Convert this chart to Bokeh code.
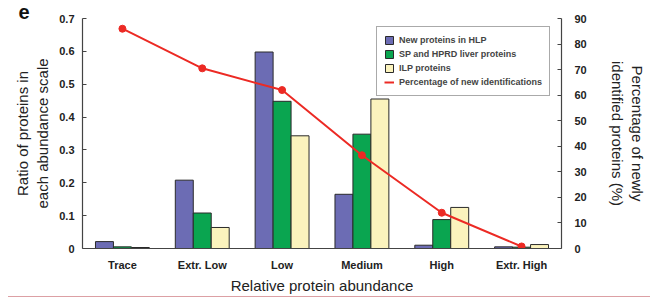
from bokeh.plotting import figure
from bokeh.models import (FactorRange, Range1d, LinearAxis, Legend, LegendItem,
                          ColumnDataSource, Title, FixedTicker, Div)
from bokeh.layouts import column
from bokeh.transform import dodge
from bokeh.embed import file_html
from bokeh.resources import INLINE

categories = ["Trace", "Extr. Low", "Low", "Medium", "High", "Extr. High"]
new_hlp = [0.021, 0.208, 0.598, 0.165, 0.010, 0.005]
sp_hprd = [0.005, 0.108, 0.448, 0.348, 0.088, 0.004]
ilp = [0.003, 0.064, 0.343, 0.455, 0.125, 0.012]
pct_new = [86.0, 70.5, 62.0, 36.5, 14.0, 0.8]
left_ticks = [0, 0.1, 0.2, 0.3, 0.4, 0.5, 0.6, 0.7]
right_ticks = [0, 10, 20, 30, 40, 50, 60, 70, 80, 90]

FONT = "Liberation Sans"
BLUE = "#6c6cb4"
GREEN = "#0aa550"
YELLOW = "#fbf3bd"
RED = "#ec2a24"

src = ColumnDataSource(dict(cat=categories, a=new_hlp, b=sp_hprd, c=ilp, pct=pct_new))

p = figure(frame_width=479, frame_height=230, x_range=FactorRange(*categories, range_padding=0),
           y_range=Range1d(0, 0.7), output_backend="svg", toolbar_location=None,
           min_border_left=82, min_border_right=86, min_border_top=18, min_border_bottom=47)
p.extra_y_ranges = {"pct": Range1d(0, 90)}
p.outline_line_color = None
p.xgrid.visible = False
p.ygrid.visible = False
p.background_fill_color = None
p.border_fill_color = "white"

p.title = Title(text="e", align="left", offset=-64, standoff=0,
                text_font=FONT, text_font_style="bold", text_font_size="20px",
                text_line_height=0.8, text_color="#111111")

w = 0.225
r1 = p.vbar(x=dodge("cat", -w, range=p.x_range), top="a", width=w, source=src,
            fill_color=BLUE, line_color="#2a2a2a", line_width=1)
r2 = p.vbar(x=dodge("cat", 0, range=p.x_range), top="b", width=w, source=src,
            fill_color=GREEN, line_color="#2a2a2a", line_width=1)
r3 = p.vbar(x=dodge("cat", w, range=p.x_range), top="c", width=w, source=src,
            fill_color=YELLOW, line_color="#2a2a2a", line_width=1)
r4 = p.line(x="cat", y="pct", source=src, y_range_name="pct", line_color=RED, line_width=2)
p.scatter(x="cat", y="pct", source=src, y_range_name="pct", size=7, color=RED)

def style_axis(ax):
    ax.axis_line_color = "#444444"
    ax.axis_line_width = 1.2
    ax.major_tick_line_color = "#444444"
    ax.major_tick_in = 4
    ax.major_tick_out = 0
    ax.minor_tick_line_color = None
    ax.major_label_text_font = FONT
    ax.major_label_text_font_style = "bold"
    ax.major_label_text_font_size = "11px"
    ax.major_label_text_color = "#222222"
    ax.axis_label_text_font = FONT
    ax.axis_label_text_font_style = "normal"
    ax.axis_label_text_font_size = "15px"
    ax.axis_label_text_color = "#222222"

yl = p.yaxis[0]
style_axis(yl)
yl.ticker = FixedTicker(ticks=left_ticks)
yl.major_label_overrides = {0: "0"}
yl.axis_label = "Ratio of proteins in\neach abundance scale"
yl.axis_label_standoff = 5
yl.major_label_standoff = 8

yr = LinearAxis(y_range_name="pct", ticker=FixedTicker(ticks=right_ticks),
                axis_label="Percentage of newly\nidentified proteins (%)")
style_axis(yr)
yr.major_label_standoff = 13
yr.axis_label_standoff = 19
p.add_layout(yr, "right")

xa = p.xaxis[0]
style_axis(xa)
xa.major_tick_in = 0
xa.major_tick_out = 0
xa.major_label_standoff = 10
xa.axis_label = "Relative protein abundance"
xa.axis_label_standoff = 3

legend = Legend(items=[
    LegendItem(label="New proteins in HLP", renderers=[r1]),
    LegendItem(label="SP and HPRD liver proteins", renderers=[r2]),
    LegendItem(label="ILP proteins", renderers=[r3]),
    LegendItem(label="Percentage of new identifications", renderers=[r4]),
], location=(294, 152))
legend.label_text_font = FONT
legend.label_text_font_style = "bold"
legend.label_text_font_size = "9px"
legend.label_height = 12
legend.glyph_height = 10
legend.glyph_width = 10
legend.spacing = 2
legend.padding = 7
legend.margin = 0
legend.label_standoff = 5
legend.border_line_color = "#555555"
legend.border_line_width = 1
legend.background_fill_alpha = 1
p.add_layout(legend, "center")

rule = Div(text="", width=642, height=1, margin=(0, 0, 0, 8),
           styles={"border-top": "1px solid #dca0a4"})

open("out.html", "w").write(file_html(column(p, rule, spacing=0), INLINE))
